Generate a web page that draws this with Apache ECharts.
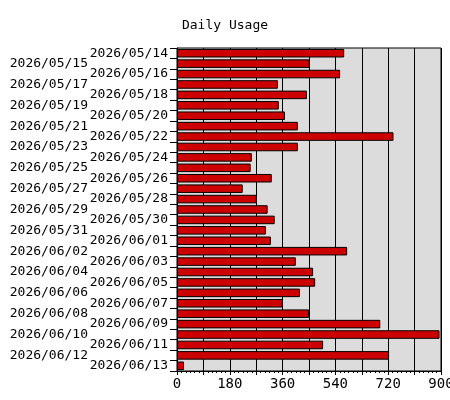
<!DOCTYPE html>
<html><head><meta charset="utf-8">
<script src="https://cdn.jsdelivr.net/npm/echarts@6/dist/echarts.min.js"></script>
<style>html,body{margin:0;padding:0;background:#fff}#c{width:450px;height:400px}</style>
</head><body><div id="c"></div>
<script>
const categories = ["2026/05/14","2026/05/15","2026/05/16","2026/05/17","2026/05/18","2026/05/19","2026/05/20","2026/05/21","2026/05/22","2026/05/23","2026/05/24","2026/05/25","2026/05/26","2026/05/27","2026/05/28","2026/05/29","2026/05/30","2026/05/31","2026/06/01","2026/06/02","2026/06/03","2026/06/04","2026/06/05","2026/06/06","2026/06/07","2026/06/08","2026/06/09","2026/06/10","2026/06/11","2026/06/12","2026/06/13"];
const usage = [570,452,556,344,443,347,368,412,738,412,255,251,323,224,272,309,333,303,320,580,405,464,471,419,360,450,693,895,498,723,24];
const xTicks = [0,180,360,540,720,900];
const font = "DejaVu Sans Mono";
const chart = echarts.init(document.getElementById('c'), null, {renderer:'canvas'});
chart.setOption({
  animation:false,
  backgroundColor:'#fff',
  title:{text:'Daily Usage',left:'center',top:14,textStyle:{fontFamily:font,fontSize:13,fontWeight:'normal',color:'#000'}},
  grid:{left:177,right:9,top:48,bottom:29,outerBoundsMode:'none',containLabel:false,show:true,backgroundColor:'#dcdcdc',borderColor:'#000',borderWidth:1},
  xAxis:{type:'value',min:0,max:900,interval:90,
    axisLine:{show:true,lineStyle:{color:'#000',width:1}},
    axisTick:{show:true,length:4,lineStyle:{color:'#000'}},
    minorTick:{show:true,splitNumber:6,length:2,lineStyle:{color:'#000'}},
    splitLine:{show:true,lineStyle:{color:'#000',width:1}},
    axisLabel:{fontFamily:font,fontSize:14,color:'#000',margin:6,hideOverlap:false,
      formatter:v=>xTicks.indexOf(v)>=0?String(v):''}},
  yAxis:{type:'category',data:categories,inverse:true,
    axisLine:{show:true,lineStyle:{color:'#000',width:1}},
    axisTick:{show:true,length:7,lineStyle:{color:'#000'}},
    splitLine:{show:false},
    axisLabel:{interval:0,fontFamily:font,fontSize:13,color:'#000',margin:9,
      formatter:(v,i)=>i%2===1?'{o|'+v+'}':'{e|'+v+'}',
      rich:{o:{fontFamily:font,fontSize:13,color:'#000',padding:[0,80,0,0]},
            e:{fontFamily:font,fontSize:13,color:'#000'}}}},
  series:[{type:'bar',data:usage,barCategoryGap:'18%',
    itemStyle:{color:'#cc0000',borderColor:'#000',borderWidth:1}}]
});
</script></body></html>
